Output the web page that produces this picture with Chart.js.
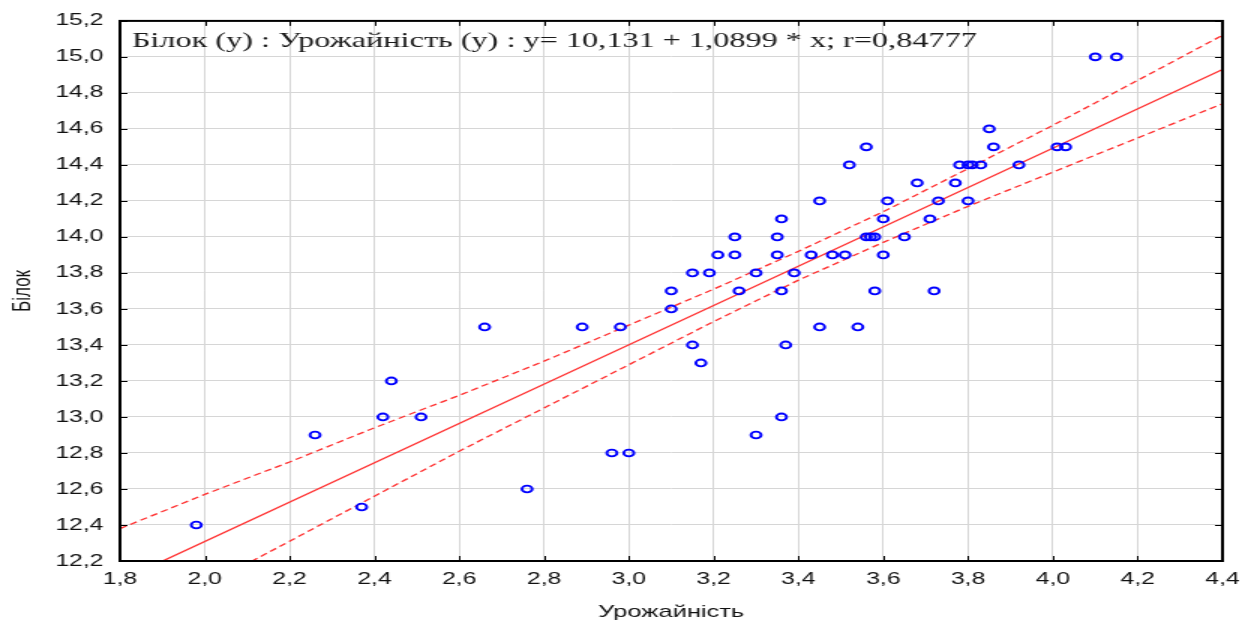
<!DOCTYPE html>
<html>
<head>
<meta charset="utf-8">
<title>Білок / Урожайність</title>
<script src="https://cdn.jsdelivr.net/npm/chart.js@4/dist/chart.umd.min.js"></script>
<style>
  html, body { margin: 0; padding: 0; background: #fff; }
  #c { display: block; }
</style>
</head>
<body>
<!-- the source picture is stretched sideways, so the canvas is drawn narrow and shown wide -->
<canvas id="c" width="830" height="620" style="width:1245px;height:620px"></canvas>
<script>
  // axis ticks
  const X_TICKS = [1.8, 2.0, 2.2, 2.4, 2.6, 2.8, 3.0, 3.2, 3.4, 3.6, 3.8, 4.0, 4.2, 4.4];
  const Y_TICKS = [12.2, 12.4, 12.6, 12.8, 13.0, 13.2, 13.4, 13.6, 13.8, 14.0, 14.2, 14.4, 14.6, 14.8, 15.0, 15.2];

  // observations: Урожайність (x) / Білок (y)
  const yieldX = [
    1.98, 2.26, 2.37, 2.42, 2.44, 2.51, 2.66, 2.76, 2.89, 2.96, 2.98, 3.00,
    3.10, 3.10, 3.15, 3.15, 3.17, 3.19, 3.21, 3.25, 3.25, 3.26, 3.30, 3.30,
    3.35, 3.35, 3.36, 3.36, 3.36, 3.37, 3.39, 3.43, 3.45, 3.45, 3.48, 3.51,
    3.52, 3.54, 3.56, 3.56, 3.57, 3.58, 3.58, 3.60, 3.60, 3.61, 3.65, 3.68,
    3.71, 3.72, 3.73, 3.77, 3.78, 3.80, 3.81, 3.83, 3.80, 3.85, 3.86, 3.92,
    4.01, 4.03, 4.10, 4.15,
  ];
  const proteinY = [
    12.4, 12.9, 12.5, 13.0, 13.2, 13.0, 13.5, 12.6, 13.5, 12.8, 13.5, 12.8,
    13.6, 13.7, 13.4, 13.8, 13.3, 13.8, 13.9, 14.0, 13.9, 13.7, 13.8, 12.9,
    14.0, 13.9, 14.1, 13.7, 13.0, 13.4, 13.8, 13.9, 14.2, 13.5, 13.9, 13.9,
    14.4, 13.5, 14.5, 14.0, 14.0, 14.0, 13.7, 14.1, 13.9, 14.2, 14.0, 14.3,
    14.1, 13.7, 14.2, 14.3, 14.4, 14.4, 14.4, 14.4, 14.2, 14.6, 14.5, 14.4,
    14.5, 14.5, 15.0, 15.0,
  ];

  // fitted line y = 10,131 + 1,0899 * x, read at the plot edges
  const fitX = [1.8, 4.4];
  const fitY = [12.09, 14.93];

  // 95% confidence band at each x tick
  const bandX = X_TICKS;
  const bandUpper = [12.38, 12.57, 12.75, 12.94, 13.12, 13.31, 13.51, 13.71, 13.92, 14.14, 14.38, 14.62, 14.87, 15.12];
  const bandLower = [11.81, 12.06, 12.31, 12.56, 12.81, 13.05, 13.29, 13.53, 13.76, 13.97, 14.17, 14.36, 14.55, 14.74];

  const TITLE = 'Білок (y) : Урожайність (y) : y= 10,131 + 1,0899 * x; r=0,84777';
  const SANS = '"Liberation Sans", Arial, sans-serif';
  const SERIF = '"Liberation Serif", "Times New Roman", serif';
  const RED = '#ff3030';

  const pts = (xs, ys) => xs.map((x, i) => ({ x, y: ys[i] }));
  const fmt = (v) => v.toFixed(1).replace('.', ',');

  /* frame, inner tick marks and the regression caption */
  const frame = {
    id: 'frame',
    afterDatasetsDraw(chart) {
      const { ctx, chartArea: a, scales: { x, y } } = chart;
      ctx.save();
      ctx.strokeStyle = '#000';
      ctx.lineWidth = 1;
      ctx.beginPath();
      X_TICKS.forEach((v) => {
        const p = Math.round(x.getPixelForValue(v)) + 0.5;
        ctx.moveTo(p, a.bottom); ctx.lineTo(p, a.bottom - 5);
        ctx.moveTo(p, a.top); ctx.lineTo(p, a.top + 5);
      });
      Y_TICKS.forEach((v) => {
        const p = Math.round(y.getPixelForValue(v)) + 0.5;
        ctx.moveTo(a.left, p); ctx.lineTo(a.left + 5, p);
        ctx.moveTo(a.right, p); ctx.lineTo(a.right - 5, p);
      });
      ctx.stroke();
      ctx.lineWidth = 2;
      ctx.strokeRect(a.left, a.top, a.right - a.left, a.bottom - a.top);
      ctx.font = '21.5px ' + SERIF;
      ctx.fillStyle = '#1a1a1a';
      ctx.textBaseline = 'alphabetic';
      ctx.fillText(TITLE, a.left + 8, a.top + 26);
      ctx.restore();
    },
  };

  new Chart(document.getElementById('c'), {
    type: 'scatter',
    data: {
      datasets: [
        { label: 'Білок', data: pts(yieldX, proteinY), pointStyle: 'circle', pointRadius: 3.4, pointHoverRadius: 4, borderWidth: 1.9, borderColor: '#0000ff', backgroundColor: 'rgba(0,0,0,0)' },
        { label: 'fit', data: pts(fitX, fitY), showLine: true, borderColor: RED, borderWidth: 1.3, pointRadius: 0 },
        { label: 'upper', data: pts(bandX, bandUpper), showLine: true, borderColor: RED, borderWidth: 1.3, borderDash: [5, 3], pointRadius: 0 },
        { label: 'lower', data: pts(bandX, bandLower), showLine: true, borderColor: RED, borderWidth: 1.3, borderDash: [5, 3], pointRadius: 0 },
      ],
    },
    options: {
      responsive: false, animation: false,
      layout: { padding: { left: 0, right: 15, top: 20, bottom: -3 } },
      plugins: { legend: { display: false }, tooltip: { enabled: false } },
      scales: {
        x: {
          type: 'linear', min: 1.8, max: 4.4,
          afterBuildTicks: (s) => { s.ticks = X_TICKS.map((value) => ({ value })); },
          afterFit: (s) => { s.height = 62; s.paddingLeft = 0; s.paddingRight = 0; },
          ticks: { callback: (v) => fmt(v), color: '#111', padding: 9, font: { size: 16.5, family: SANS }, maxRotation: 0, autoSkip: false },
          grid: { color: '#d6d6d6', lineWidth: 1, drawTicks: false },
          border: { display: false },
          title: { display: true, text: 'Урожайність', color: '#111', font: { size: 17, family: SANS }, padding: { top: 8, bottom: 0 } },
        },
        y: {
          type: 'linear', min: 12.2, max: 15.2,
          afterBuildTicks: (s) => { s.ticks = Y_TICKS.map((value) => ({ value })); },
          afterFit: (s) => { s.width = 80; },
          ticks: { callback: (v) => fmt(v), color: '#111', padding: 11, font: { size: 16.5, family: SANS }, autoSkip: false },
          grid: { color: '#d6d6d6', lineWidth: 1, drawTicks: false },
          border: { display: false },
          title: { display: true, text: 'Білок', color: '#111', font: { size: 17, family: SANS }, padding: { top: 5, bottom: 0 } },
        },
      },
    },
    plugins: [frame],
  });
</script>
</body>
</html>
